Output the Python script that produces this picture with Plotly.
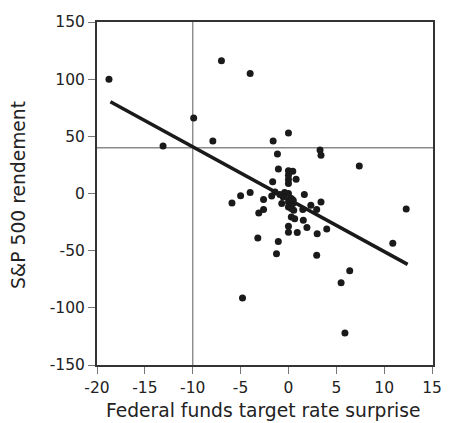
import plotly.graph_objects as go

# Scatter data: Federal funds target rate surprise vs S&P 500 return
surprise = [-18.75, -13.1, -9.9, -7.9, -7.0, -4.0, -1.6, 0.0, 3.3, 3.4,
            7.4, 12.3, 10.9, 6.4, 5.5, 5.9, -4.8, -1.15, -1.05, 0.0,
            0.45, 0.0, 0.8, 0.0, -1.65, 0.0, -4.0, -5.0, -5.9, -2.6,
            -1.75, -0.9, -0.4, 0.0, -0.55, 0.3, 0.0, 0.47, 0.0, 0.3,
            1.66, 0.55, 1.5, 2.34, 2.95, 3.4, -2.6, -3.1, 0.3, 0.65,
            1.55, 0.0, 0.0, 0.92, 1.93, 3.0, 4.0, -3.2, -1.06, -1.25,
            2.95, -1.4, -0.7, 0.5]
sp500 = [100, 41.5, 66, 46, 116, 105, 46, 53, 38, 33.5,
         24, -13.5, -43.5, -67.5, -78, -122, -91.5, 34.5, 21.5, 20,
         19.5, 16, 12.5, 12.3, 10.3, 8.8, 0.9, -2.0, -8.3, -5.3,
         -2.2, -0.9, 0.9, 0.0, -3.0, -4.4, -7.4, -8.8, -11.7, -13.2,
         -0.9, -14.6, -14, -10.2, -14, -7.4, -14, -17, -20.5, -22,
         -23.5, -28.7, -33.8, -34.2, -29.8, -35.3, -31, -39, -42, -52.6,
         -54, 1.4, -8.8, -6]

# Fitted regression line endpoints
fit_x = [-18.6, 12.45]
fit_y = [80.3, -62]

# Reference lines
ref_x = -10
ref_y = 40

x_ticks = [-20, -15, -10, -5, 0, 5, 10, 15]
x_ticklabels = ["-20", "-15", "-10", "-5", "0", "5", "10", "15"]
y_ticks = [-150, -100, -50, 0, 50, 100, 150]
y_ticklabels = ["-150", "-100", "-50", "0", "50", "100", "150"]

x_range = [-20.0, 15.1]
y_range = [-150, 150]

FONT = "DejaVu Sans"
DARK = "#1a1a1a"

fig = go.Figure()

# reference lines
fig.add_trace(go.Scatter(x=[ref_x, ref_x], y=y_range, mode="lines",
                         line=dict(color="#8a8a8a", width=1.4),
                         hoverinfo="skip", showlegend=False))
fig.add_trace(go.Scatter(x=x_range, y=[ref_y, ref_y], mode="lines",
                         line=dict(color="#8a8a8a", width=1.4),
                         hoverinfo="skip", showlegend=False))

fig.add_trace(go.Scatter(x=surprise, y=sp500, mode="markers",
                         marker=dict(color=DARK, size=7, line=dict(width=0)),
                         showlegend=False))

fig.add_trace(go.Scatter(x=fit_x, y=fit_y, mode="lines",
                         line=dict(color=DARK, width=3.5),
                         showlegend=False))

axis_common = dict(showline=True, linecolor="#333333", linewidth=2, mirror=True,
                   ticks="outside", ticklen=7, tickwidth=1.3, tickcolor="#777777",
                   showgrid=False, zeroline=False,
                   tickfont=dict(family=FONT, size=15.5, color="#222222"))

fig.update_xaxes(range=x_range, tickvals=x_ticks, ticktext=x_ticklabels, **axis_common)
fig.update_yaxes(range=y_range, tickvals=y_ticks, ticktext=y_ticklabels, **axis_common)

fig.update_layout(
    width=451, height=423,
    margin=dict(l=97, r=9, t=22, b=58),
    plot_bgcolor="white", paper_bgcolor="white",
    font=dict(family=FONT, color="#222222"),
    annotations=[
        dict(text="Federal funds target rate surprise", xref="paper", yref="paper",
             x=(268 - 97) / 345, y=-(410 - 365) / 343, xanchor="center", yanchor="middle",
             showarrow=False, font=dict(family=FONT, size=18.7, color="#222222")),
        dict(text="S&P 500 rendement", xref="paper", yref="paper",
             x=-(97 - 17) / 345, y=(365 - 195) / 343, xanchor="center", yanchor="middle",
             textangle=-90, showarrow=False,
             font=dict(family=FONT, size=18.7, color="#222222")),
    ],
)

fig.write_html("out.html")
